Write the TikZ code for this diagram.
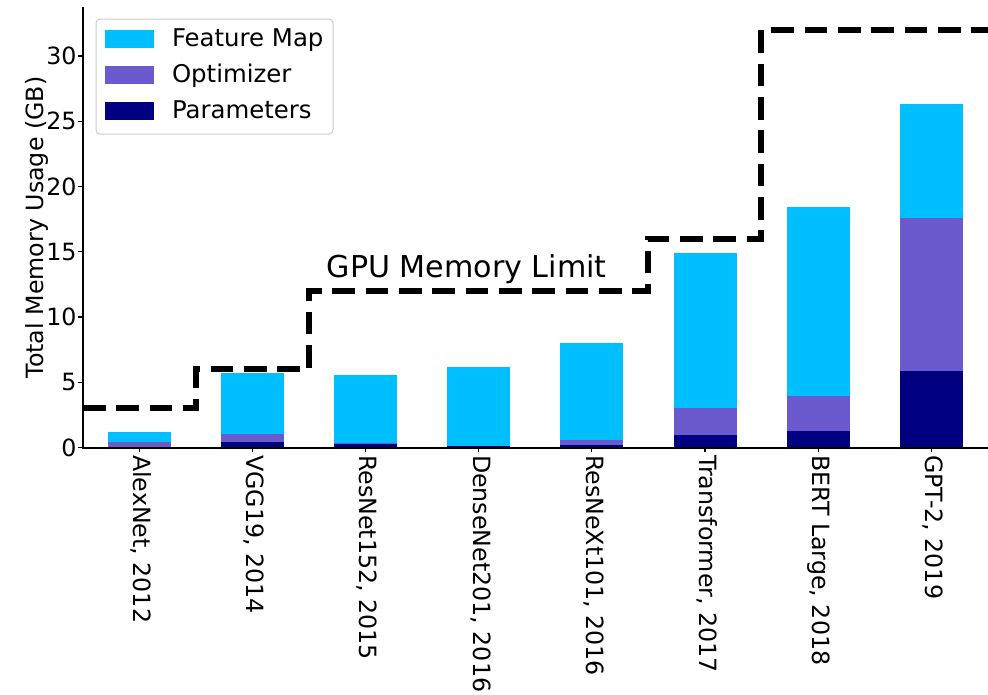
\documentclass[tikz,border=0pt]{standalone}
\usepackage{fontspec}
\setmainfont{DejaVu Sans}
\definecolor{featcol}{RGB}{0,191,255}
\definecolor{optcol}{RGB}{106,90,205}
\definecolor{parcol}{RGB}{0,0,128}
\definecolor{legframe}{RGB}{204,204,204}

\begin{document}
\begin{tikzpicture}[x=0.75pt,y=-0.75pt,
  labelfont/.style={font=\fontsize{17.8}{21}\selectfont, inner sep=0pt, outer sep=0pt},
  legfont/.style={font=\fontsize{18.3}{22}\selectfont, inner sep=0pt, outer sep=0pt},
  tickline/.style={line width=0.8pt},
  spine/.style={line width=1.6pt},
  limitline/.style={line width=4.5pt, dash pattern=on 17pt off 8pt}]
\useasboundingbox (0,0) rectangle (988,694);

% stacked bars: parameters, optimizer, feature map (cumulative heights in GB)
\begin{scope}[shift={(139.5,447.5)}, x=84.825pt, y=9.7875pt]
  \foreach \i/\p/\o/\t in {0/0.06/0.42/1.19, 1/0.42/1.03/5.71, 2/0.25/0.35/5.56,
      3/0.10/0.12/6.17, 4/0.21/0.57/8.00, 5/0.96/3.03/14.90,
      6/1.26/3.94/18.43, 7/5.86/17.58/26.32}{
    \fill[featcol] (\i-0.2785,\o) rectangle (\i+0.2785,\t);
    \fill[optcol]  (\i-0.2785,\p) rectangle (\i+0.2785,\o);
    \fill[parcol]  (\i-0.2785,0)  rectangle (\i+0.2785,\p);
  }
\end{scope}

% GPU memory limit step line
\draw[limitline] (83,408.35) -- (196,408.35) -- (196,369.2) -- (309,369.2)
  -- (309,290.9) -- (648,290.9) -- (648,238.7) -- (761,238.7)
  -- (761,29.9) -- (988,29.9);
\node[font=\fontsize{22.6}{27}\selectfont, inner sep=0pt, anchor=base west]
  (limitlabel) at (326.4,277.5) {GPU Memory Limit};

% axes
\draw[spine] (83,7) -- (83,448) -- (988,448);

% y ticks and labels
\foreach \v in {0,5,10,15,20,25,30}{
  \draw[tickline] (83,{447.5-13.05*\v}) -- (78,{447.5-13.05*\v});
  \node[labelfont, anchor=east] (ytick\v) at (76.5,{447.5-13.05*\v}) {\v};
}
\node[labelfont, rotate=90, anchor=base] (ylabel) at (43,227.5) {Total Memory Usage (GB)};

% x ticks and labels
\foreach \i/\name in {0/{AlexNet, 2012}, 1/{VGG19, 2014}, 2/{ResNet152, 2015},
    3/{DenseNet201, 2016}, 4/{ResNeXt101, 2016}, 5/{Transformer, 2017},
    6/{BERT Large, 2018}, 7/{GPT-2, 2019}}{
  \draw[tickline] ({139.5+113.1*\i},448) -- ({139.5+113.1*\i},451.5);
  \node[labelfont, rotate=-90, anchor=base west] (xtick\i)
    at ({139.5+113.1*\i-5.8},455) {\name};
}

% legend
\draw[legframe, line width=0.75pt, fill=white, rounded corners=3pt] (96,19) rectangle (333,134);
\fill[featcol] (105,30) rectangle (154,47.5);
\fill[optcol]  (105,66) rectangle (154,83.5);
\fill[parcol]  (105,102) rectangle (154,119.5);
\node[legfont, anchor=base west] (legfeat) at (172,46.7) {Feature Map};
\node[legfont, anchor=base west] (legopt) at (172,82.7) {Optimizer};
\node[legfont, anchor=base west] (legpar) at (172,118.7) {Parameters};
\end{tikzpicture}
\end{document}
